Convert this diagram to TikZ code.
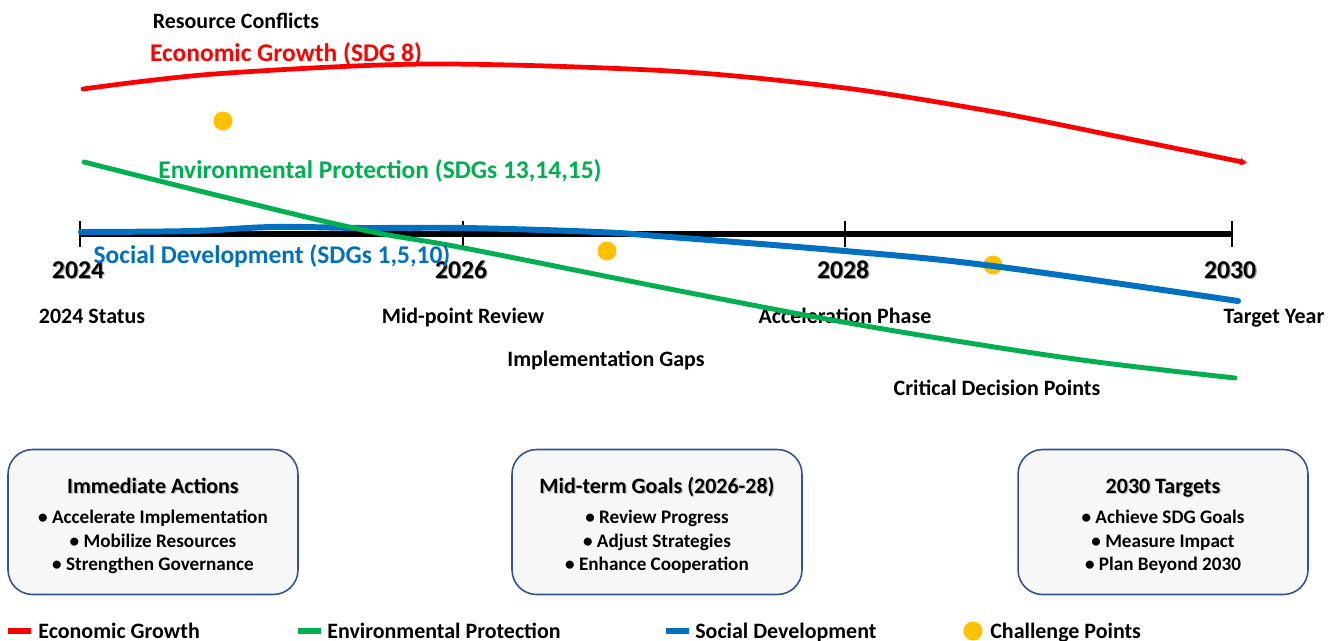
\documentclass[tikz,border=0pt]{standalone}
\usepackage{fontspec}
\setmainfont{Carlito}
\usetikzlibrary{positioning,arrows.meta}
\definecolor{econRed}{HTML}{FF0000}
\definecolor{envGreen}{HTML}{00B050}
\definecolor{socBlue}{HTML}{0070C0}
\definecolor{challengeGold}{HTML}{FFC000}
\definecolor{goalFill}{HTML}{F7F7F7}
\definecolor{goalBorder}{HTML}{2F5597}

% soft drop shadow behind a piece of text
\newcommand{\shadowed}[2][black!35]{%
  \makebox[0pt][l]{\kern0.7pt\raisebox{-0.9pt}{\textcolor{#1}{#2}}}#2}

\begin{document}
\begin{tikzpicture}[
    x=0.02cm, y=-0.02cm,
    lbl/.style={font=\bfseries\fontsize{12.5}{15}\selectfont, inner sep=0pt, anchor=base},
    series/.style={font=\bfseries\fontsize{14.5}{17}\selectfont, inner sep=0pt, anchor=base},
    yearlbl/.style={font=\bfseries\fontsize{14.6}{17}\selectfont, inner sep=0pt, anchor=base},
    bullet/.style={font=\bfseries\fontsize{10.9}{13}\selectfont, inner sep=0pt, anchor=base},
    goalbox/.style={
        rectangle, draw=goalBorder, fill=goalFill,
        minimum width=5.8cm, minimum height=2.9cm,
        rounded corners=14pt, line width=0.9pt
    },
    dot/.style={circle, fill=challengeGold, minimum size=0.38cm, inner sep=0pt},
    trend/.style={line width=#1, line cap=round, line join=round}
]
  \useasboundingbox (0,0) rectangle (1338,640);

  % Timeline axis with year ticks
  \draw[line width=2.9pt] (80,234) -- (1232,234);
  \foreach \x/\yr in {80/2024, 463/2026, 845/2028, 1232/2030} {
    \draw[line width=1.6pt] (\x,221) -- (\x,247);
    \node[yearlbl] (yr-\yr) at (\x-2,278) {\shadowed[black!40]{\yr}};
  }

  % Milestone captions
  \node[lbl] (status) at (92,323) {2024 Status};
  \node[lbl] (midpoint) at (463,323) {Mid-point Review};
  \node[lbl] (accel) at (845,323) {Acceleration Phase};
  \node[lbl] (target) at (1274,323) {Target Year};
  \node[lbl] (gaps) at (606,366) {Implementation Gaps};
  \node[lbl] (decision) at (997,395) {Critical Decision Points};
  \node[lbl] (conflicts) at (236,28) {Resource Conflicts};

  % Challenge points
  \node[dot] (ch1) at (223,121) {};
  \node[dot] (ch2) at (607,251) {};
  \node[dot] (ch3) at (993,265) {};

  % Trend lines
  \draw[trend=3.4pt, socBlue] plot[smooth, tension=0.6] coordinates {
    (81,232) (192,231) (273,227) (363,228) (464,228) (598,232) (670,237)
    (845,251) (993,266) (1238,301)};
  \draw[trend=2.8pt, envGreen] plot[smooth, tension=0.6] coordinates {
    (84,162) (220,196) (363,230) (464,248) (670,289) (832,320) (969,343)
    (1097,362) (1235,378)};
  \draw[trend=2.7pt, econRed, -{Stealth[length=4pt, width=4.5pt]}] plot[smooth, tension=0.5] coordinates {
    (83,89) (214,74) (427,64) (670,71) (845,88) (995,112) (1120,137) (1247,163)};

  % Series labels
  \node[series, text=econRed] (econ) at (286,61) {Economic Growth (SDG 8)};
  \node[series, text=envGreen] (env) at (380,178) {Environmental Protection (SDGs 13,14,15)};
  \node[series, text=socBlue] (soc) at (272,263) {Social Development (SDGs 1,5,10)};

  % Goal boxes
  \foreach \cx/\ttl/\ba/\bb/\bc [count=\i] in {
      153/Immediate Actions/Accelerate Implementation/Mobilize Resources/Strengthen Governance,
      657/Mid-term Goals (2026-28)/Review Progress/Adjust Strategies/Enhance Cooperation,
      1163/2030 Targets/Achieve SDG Goals/Measure Impact/Plan Beyond 2030} {
    \node[goalbox] (goal\i) at (\cx,522) {};
    \node[lbl] (goal\i-title) at (\cx,493) {\shadowed[black!25]{\ttl}};
    \node[bullet] (goal\i-a) at (\cx,523) {\textbullet\ \ba};
    \node[bullet] (goal\i-b) at (\cx,547) {\textbullet\ \bb};
    \node[bullet] (goal\i-c) at (\cx,570) {\textbullet\ \bc};
  }

  % Legend
  \fill[econRed] (8,628) rectangle (31,634);
  \node[lbl, anchor=base west] (leg-econ) at (38,638) {Economic Growth};
  \fill[envGreen] (298,628) rectangle (321,634);
  \node[lbl, anchor=base west] (leg-env) at (327,638) {Environmental Protection};
  \fill[socBlue] (666,628) rectangle (689,634);
  \node[lbl, anchor=base west] (leg-soc) at (695,638) {Social Development};
  \node[dot] (leg-dot) at (973,631) {};
  \node[lbl, anchor=base west] (leg-ch) at (990,638) {Challenge Points};
\end{tikzpicture}
\end{document}
